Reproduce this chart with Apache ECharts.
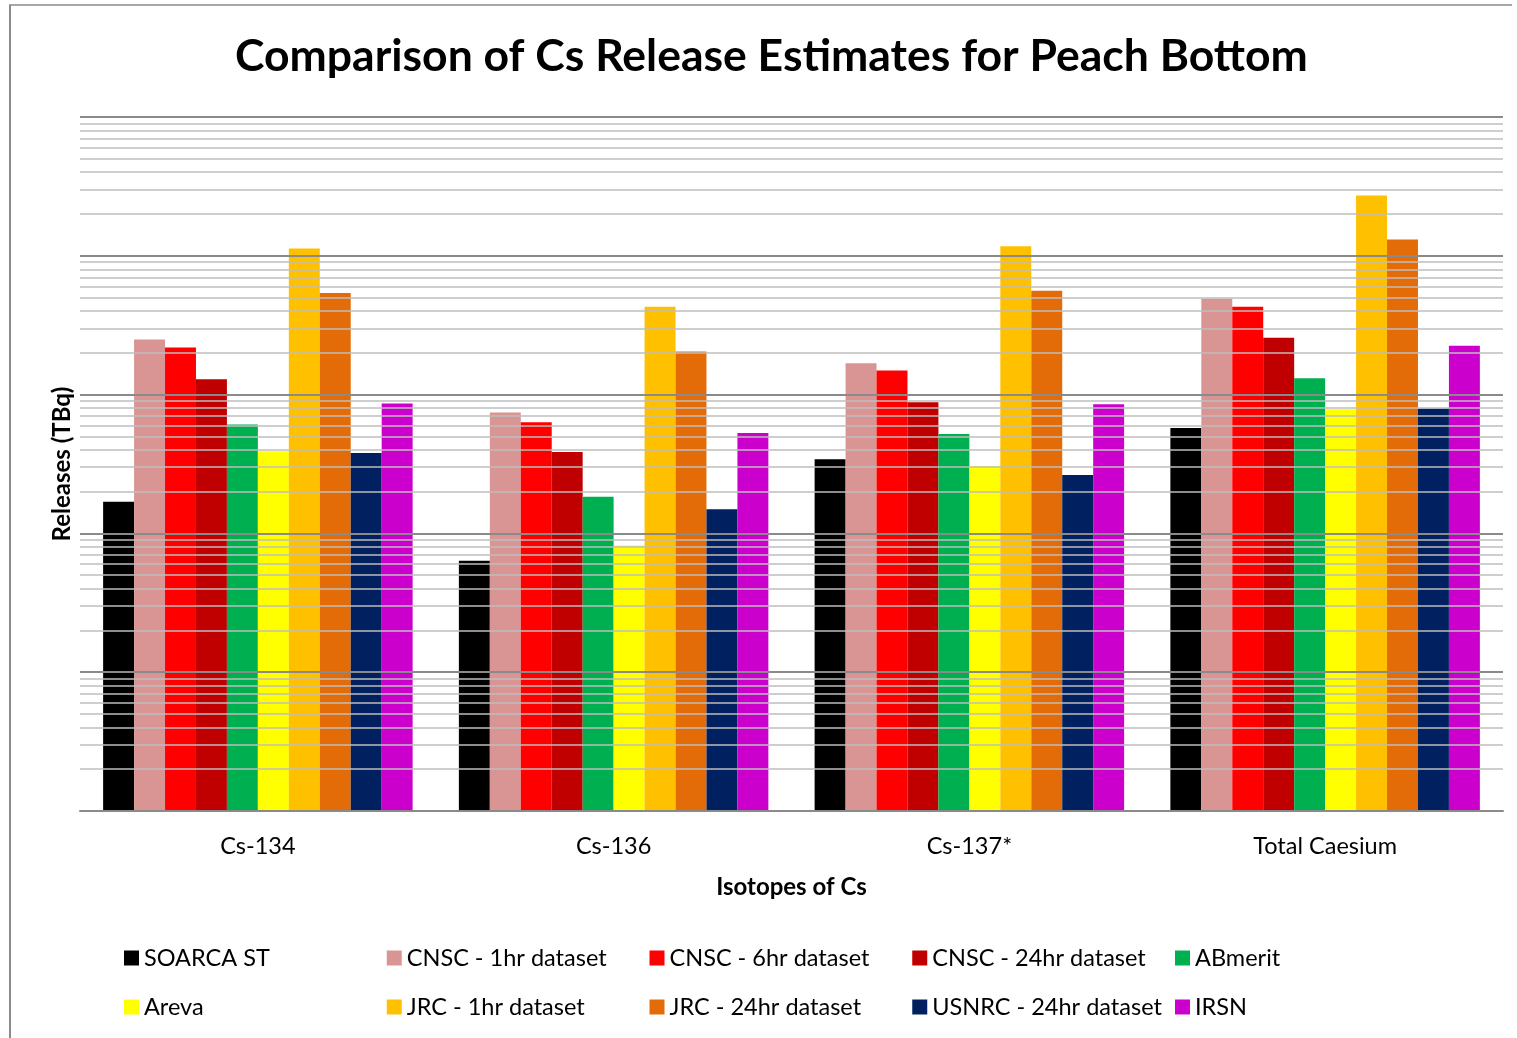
<!DOCTYPE html>
<html>
<head>
<meta charset="utf-8">
<title>Comparison of Cs Release Estimates for Peach Bottom</title>
<script src="https://cdn.jsdelivr.net/npm/echarts@6/dist/echarts.min.js"></script>
<style>
  html, body { margin: 0; padding: 0; background: #ffffff; }
  #chart { width: 1517px; height: 1038px; }
</style>
</head>
<body>
<div id="chart"></div>
<script>
// Isotope groups along the x axis
const categories = ['Cs-134', 'Cs-136', 'Cs-137*', 'Total Caesium'];

// Release estimates per source (TBq), one value per isotope group
const soarcaST     = [1690, 634, 3420, 5750];
const cnsc1hr      = [24900, 7420, 16800, 49100];
const cnsc6hr      = [21800, 6320, 14900, 43000];
const cnsc24hr     = [12900, 3860, 8810, 25700];
const abmerit      = [6080, 1840, 5200, 13100];
const areva        = [3910, 818, 3060, 7840];
const jrc1hr       = [113000, 43000, 117000, 272000];
const jrc24hr      = [53900, 20400, 56100, 131000];
const usnrc24hr    = [3800, 1490, 2640, 7930];
const irsn         = [8610, 5290, 8510, 22500];

// Log axis range: five decades
const axisMin = 10;
const axisMax = 1000000;

const seriesDefs = [
  { name: 'SOARCA ST',           data: soarcaST,  color: '#000000' },
  { name: 'CNSC - 1hr dataset',  data: cnsc1hr,   color: '#D99594' },
  { name: 'CNSC - 6hr dataset',  data: cnsc6hr,   color: '#FF0000' },
  { name: 'CNSC - 24hr dataset', data: cnsc24hr,  color: '#C00000' },
  { name: 'ABmerit',             data: abmerit,   color: '#00B050' },
  { name: 'Areva',               data: areva,     color: '#FFFF00' },
  { name: 'JRC - 1hr dataset',   data: jrc1hr,    color: '#FFC000' },
  { name: 'JRC - 24hr dataset',  data: jrc24hr,   color: '#E36C09' },
  { name: 'USNRC - 24hr dataset',data: usnrc24hr, color: '#002060' },
  { name: 'IRSN',                data: irsn,      color: '#CC00CC' }
];

// Decade and in-decade (2..9) gridline values for the log axis
const majorGrid = [];
const minorGrid = [];
for (let d = axisMin; d <= axisMax; d *= 10) {
  majorGrid.push(d);
  if (d < axisMax) {
    for (let k = 2; k <= 9; k++) minorGrid.push(d * k);
  }
}

const FONT = 'Lato, "Open Sans", sans-serif';

const chart = echarts.init(document.getElementById('chart'), null, { renderer: 'canvas' });

const barSeries = seriesDefs.map(s => ({
  name: s.name,
  type: 'bar',
  data: s.data,
  z: 3,
  barGap: '0%',
  barCategoryGap: '13%',
  itemStyle: { color: s.color },
  emphasis: { disabled: true }
}));

const gridSeries = {
  name: '__grid',
  type: 'line',
  data: categories.map(() => null),
  z: 1,
  silent: true,
  showSymbol: false,
  markLine: {
    silent: true,
    symbol: 'none',
    animation: false,
    label: { show: false },
    emphasis: { disabled: true },
    data: minorGrid.map(v => ({ yAxis: v, lineStyle: { color: '#BEBEBE', width: 1.5, type: 'solid' } }))
      .concat(majorGrid.map(v => ({ yAxis: v, lineStyle: { color: '#8A8A8A', width: 2, type: 'solid' } })))
  }
};

const legendNames = seriesDefs.map(s => s.name);
const legendCommon = {
  left: 119,
  orient: 'horizontal',
  itemWidth: 15,
  itemHeight: 15,
  itemGap: 10.75,
  icon: 'rect',
  selectedMode: false,
  textStyle: { fontFamily: FONT, fontSize: 23.5, color: '#000000', width: 232, lineHeight: 28 }
};

chart.setOption({
  animation: false,
  backgroundColor: '#ffffff',
  title: {
    text: 'Comparison of Cs Release Estimates for Peach Bottom',
    left: 230,
    top: 29,
    textStyle: { fontFamily: FONT, fontSize: 44.5, fontWeight: 'bold', color: '#000000' }
  },
  graphic: [
    { type: 'line', shape: { x1: 9, y1: 5, x2: 1512, y2: 5 }, style: { stroke: '#8A8A8A', lineWidth: 1.5 }, silent: true },
    { type: 'line', shape: { x1: 10, y1: 5, x2: 10, y2: 1038 }, style: { stroke: '#8A8A8A', lineWidth: 2 }, silent: true }
  ],
  legend: [
    Object.assign({}, legendCommon, { top: 939, data: legendNames.slice(0, 5) }),
    Object.assign({}, legendCommon, { top: 988, data: legendNames.slice(5) })
  ],
  grid: { left: 80, right: 14, top: 117, height: 694, containLabel: false },
  xAxis: {
    type: 'category',
    data: categories,
    name: 'Isotopes of Cs',
    nameLocation: 'middle',
    nameGap: 64,
    nameTextStyle: { fontFamily: FONT, fontSize: 24, fontWeight: 'bold', color: '#000000' },
    axisLine: { show: true, lineStyle: { color: '#8A8A8A', width: 2 } },
    axisTick: { show: false },
    axisLabel: { fontFamily: FONT, fontSize: 23.5, color: '#000000', margin: 23 },
    splitLine: { show: false }
  },
  yAxis: {
    type: 'log',
    logBase: 10,
    min: axisMin,
    max: axisMax,
    name: 'Releases (TBq)',
    nameLocation: 'middle',
    nameGap: 6,
    nameTextStyle: { fontFamily: FONT, fontSize: 24, fontWeight: 'bold', color: '#000000' },
    axisLine: { show: false },
    axisTick: { show: false },
    axisLabel: { show: false },
    splitLine: { show: false }
  },
  tooltip: { show: false },
  series: [gridSeries].concat(barSeries)
});
</script>
</body>
</html>
